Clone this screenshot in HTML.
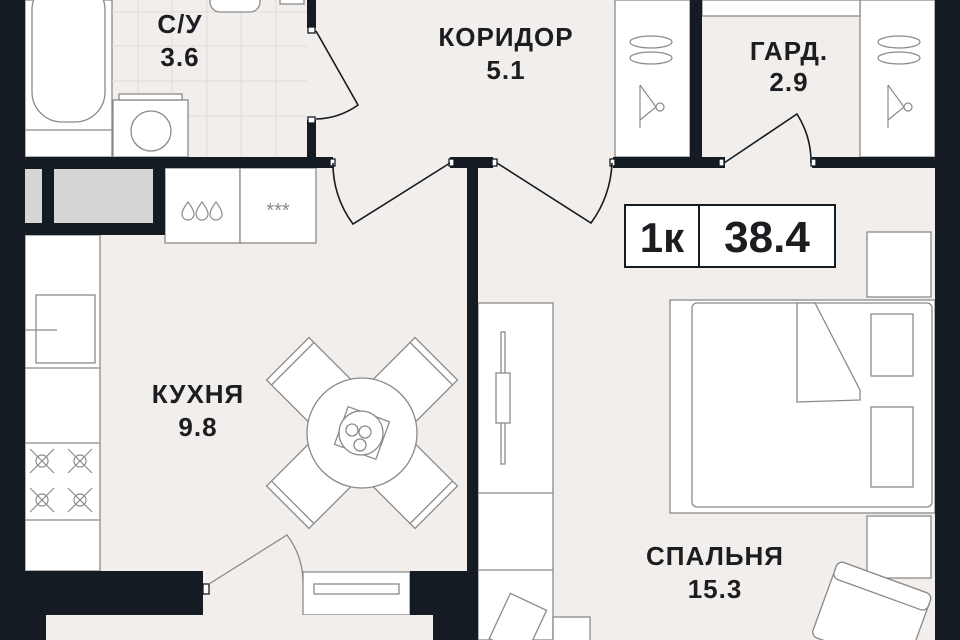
<!DOCTYPE html>
<html><head><meta charset="utf-8"><style>
html,body{margin:0;padding:0;background:#f2eeeb;}
svg{display:block}
text{font-family:"Liberation Sans",sans-serif;fill:#1b1d21;text-anchor:middle;font-weight:bold}
.l{font-size:26px;letter-spacing:1px}
</style></head><body>
<svg width="960" height="640" viewBox="0 0 960 640" xmlns="http://www.w3.org/2000/svg">
<rect width="960" height="640" fill="#f2eeeb"/>
<g fill="#fff" stroke="#8a8a8a" stroke-width="1.3">
<rect x="25" y="0" width="87" height="157"/>
<rect x="32" y="-20" width="73" height="142" rx="30"/>
<line x1="25" y1="130" x2="112" y2="130"/>
</g>
<g stroke="#e0dcd8" stroke-width="1">
<line x1="138" y1="0" x2="138" y2="157"/><line x1="172" y1="0" x2="172" y2="157"/><line x1="207" y1="0" x2="207" y2="157"/><line x1="241" y1="0" x2="241" y2="157"/><line x1="276" y1="0" x2="276" y2="157"/>
<line x1="112" y1="12" x2="307" y2="12"/><line x1="112" y1="46" x2="307" y2="46"/><line x1="112" y1="81" x2="307" y2="81"/><line x1="112" y1="116" x2="307" y2="116"/>
</g>
<g fill="#fff" stroke="#8a8a8a" stroke-width="1.3">
<rect x="113" y="100" width="75" height="57"/>
<rect x="119" y="94" width="63" height="6"/>
<circle cx="151" cy="131" r="20"/>
<rect x="210" y="-10" width="50" height="22" rx="10"/>
<rect x="280" y="-5" width="24" height="9"/>
<rect x="615" y="0" width="75" height="157"/>
<rect x="860" y="0" width="75" height="157"/>
<rect x="702" y="0" width="158" height="16"/>
<rect x="165" y="168" width="75" height="75"/>
<rect x="240" y="168" width="76" height="75"/>
<rect x="25" y="235" width="75" height="336"/>
<line x1="25" y1="368" x2="100" y2="368"/><line x1="25" y1="443" x2="100" y2="443"/><line x1="25" y1="520" x2="100" y2="520"/>
<rect x="36" y="295" width="59" height="68"/>
<line x1="25" y1="330" x2="57" y2="330"/>
<rect x="303" y="572" width="107" height="43"/>
<rect x="314" y="584" width="85" height="10"/>
<rect x="478" y="303" width="75" height="337"/>
<line x1="478" y1="493" x2="553" y2="493"/><line x1="478" y1="570" x2="553" y2="570"/>
<rect x="501" y="332" width="4" height="132"/><rect x="496" y="373" width="14" height="50"/>
<rect x="553" y="617" width="37" height="30"/>
<rect x="670" y="300" width="265" height="213"/>
<rect x="692" y="303" width="240" height="204" rx="5"/>
<rect x="871" y="314" width="42" height="62"/>
<rect x="871" y="407" width="42" height="80"/>
<rect x="867" y="232" width="64" height="65"/>
<rect x="867" y="516" width="64" height="62"/>
<path d="M797 303 L797 402 L860 400 L860 390 L815 303 Z"/>
<g transform="rotate(45 362 433)">
<rect x="332" y="328" width="60" height="70"/><line x1="332" y1="335" x2="392" y2="335"/>
<rect x="332" y="468" width="60" height="70"/><line x1="332" y1="531" x2="392" y2="531"/>
<rect x="257" y="403" width="70" height="60"/><line x1="264" y1="403" x2="264" y2="463"/>
<rect x="397" y="403" width="70" height="60"/><line x1="460" y1="403" x2="460" y2="463"/>
</g>
<circle cx="362" cy="433" r="55"/>
<rect x="340" y="413" width="44" height="40" transform="rotate(20 362 433)"/>
<circle cx="361" cy="433" r="22"/>
<circle cx="352" cy="430" r="6"/><circle cx="365" cy="432" r="6"/><circle cx="360" cy="445" r="6"/>
<g transform="rotate(20 870 620)">
<rect x="820" y="575" width="100" height="80" rx="6"/>
<rect x="820" y="575" width="100" height="18" rx="6"/>
</g>
<g transform="rotate(25 520 620)"><rect x="500" y="600" width="40" height="50"/></g>
</g>
<g fill="none" stroke="#8a8a8a" stroke-width="1.2">
<path d="M188 202 q-6 8 -6 12 a6 6 0 0 0 12 0 q0 -4 -6 -12z"/>
<path d="M202 202 q-6 8 -6 12 a6 6 0 0 0 12 0 q0 -4 -6 -12z"/>
<path d="M216 202 q-6 8 -6 12 a6 6 0 0 0 12 0 q0 -4 -6 -12z"/>
<ellipse cx="651" cy="42" rx="21" ry="6"/><ellipse cx="651" cy="58" rx="21" ry="6"/>
<ellipse cx="899" cy="42" rx="21" ry="6"/><ellipse cx="899" cy="58" rx="21" ry="6"/>
<path d="M640 85 L640 128 M640 85 L656 107 M640 120 L656 107"/><circle cx="660" cy="107" r="4"/>
<path d="M888 85 L888 128 M888 85 L904 107 M888 120 L904 107"/><circle cx="908" cy="107" r="4"/>
<g transform="translate(42 461)"><circle r="6"/><path d="M-12 -12 L12 12 M12 -12 L-12 12"/></g>
<g transform="translate(80 461)"><circle r="6"/><path d="M-12 -12 L12 12 M12 -12 L-12 12"/></g>
<g transform="translate(42 500)"><circle r="6"/><path d="M-12 -12 L12 12 M12 -12 L-12 12"/></g>
<g transform="translate(80 500)"><circle r="6"/><path d="M-12 -12 L12 12 M12 -12 L-12 12"/></g>
</g>
<text x="278" y="217" font-size="20" style="fill:#8a8a8a;font-weight:normal">***</text>
<g fill="#151b22">
<rect x="0" y="0" width="25" height="640"/>
<rect x="935" y="0" width="25" height="640"/>
<rect x="25" y="157" width="308" height="11"/>
<rect x="450" y="157" width="43" height="11"/>
<rect x="613" y="157" width="112" height="11"/>
<rect x="812" y="157" width="123" height="11"/>
<rect x="307" y="0" width="9" height="28"/>
<rect x="307" y="120" width="9" height="40"/>
<rect x="690" y="0" width="12" height="160"/>
<rect x="467" y="157" width="11" height="483"/>
<rect x="25" y="168" width="140" height="67"/>
<rect x="25" y="571" width="178" height="44"/>
<rect x="0" y="615" width="46" height="25"/>
<rect x="410" y="571" width="57" height="44"/>
<rect x="433" y="615" width="40" height="25"/>
</g>
<rect x="25" y="169" width="17" height="54" fill="#d6d6d6"/>
<rect x="54" y="169" width="99" height="54" fill="#d6d6d6"/>
<rect x="46" y="615" width="387" height="25" fill="#f2eeeb"/>
<g fill="#fff" stroke="#151b22" stroke-width="1.3">
<rect x="308" y="27" width="7" height="6"/><rect x="308" y="117" width="7" height="6"/>
<rect x="330" y="159" width="5" height="7"/><rect x="449" y="159" width="5" height="7"/>
<rect x="492" y="159" width="5" height="7"/><rect x="610" y="159" width="5" height="7"/>
<rect x="719" y="159" width="5" height="7"/><rect x="811" y="159" width="5" height="7"/>
<rect x="203" y="584" width="6" height="10"/>
</g>
<g fill="none" stroke="#151b22" stroke-width="1.6">
<path d="M316 31 L358 105 A75 75 0 0 1 316 119"/>
<path d="M450 163 L353 224 A100 100 0 0 1 333 163"/>
<path d="M497 163 L591 223 A110 110 0 0 0 612 163"/>
<path d="M724 163 L797 114 A90 90 0 0 1 811 163"/>
</g>
<path d="M209 584 L287 535 A80 80 0 0 1 303 580" fill="none" stroke="#8a8a8a" stroke-width="1.3"/>
<rect x="625" y="205" width="210" height="62" fill="#fff" stroke="#151b22" stroke-width="2"/>
<line x1="699" y1="205" x2="699" y2="267" stroke="#151b22" stroke-width="2"/>
<text x="662" y="252" font-size="42">1к</text>
<text x="767" y="252" font-size="44">38.4</text>
<text class="l" x="180" y="33">С/У</text>
<text class="l" x="180" y="66">3.6</text>
<text class="l" x="506" y="46">КОРИДОР</text>
<text class="l" x="506" y="79">5.1</text>
<text class="l" x="789" y="60">ГАРД.</text>
<text class="l" x="789" y="91">2.9</text>
<text class="l" x="198" y="403">КУХНЯ</text>
<text class="l" x="198" y="436">9.8</text>
<text class="l" x="715" y="565">СПАЛЬНЯ</text>
<text class="l" x="715" y="598">15.3</text>
</svg>
</body></html>
